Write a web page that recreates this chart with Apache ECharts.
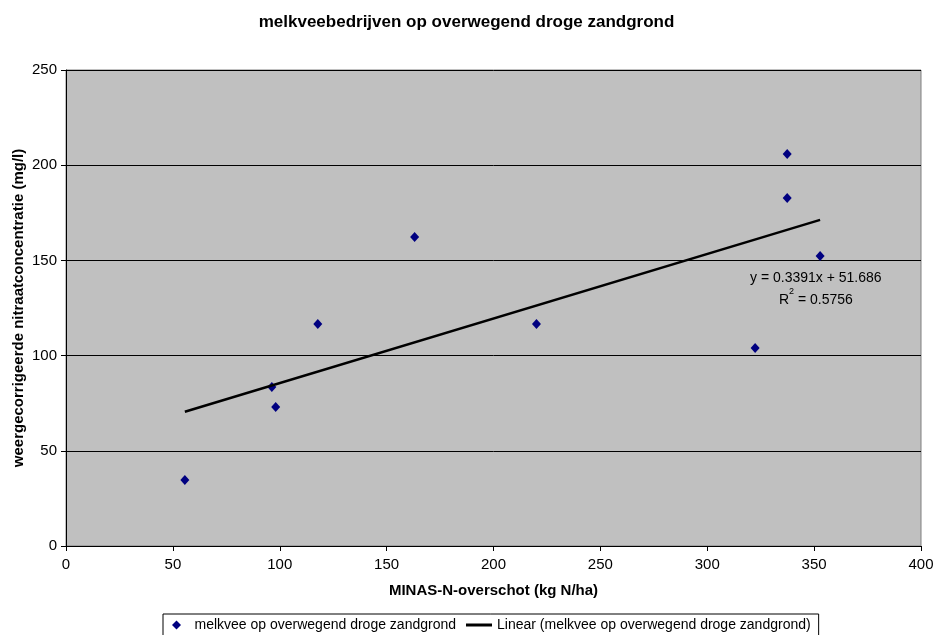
<!DOCTYPE html>
<html>
<head>
<meta charset="utf-8">
<script src="https://cdn.jsdelivr.net/npm/echarts@6/dist/echarts.min.js"></script>
<style>html,body{margin:0;padding:0;background:#fff}#c{width:933px;height:635px}</style>
</head>
<body>
<div id="c"></div>
<script>
const minasX = [55.6, 96.3, 98.1, 117.8, 163.1, 220.1, 322.4, 337.4, 337.4, 352.8];
const nitraatY = [34.7, 83.5, 73.0, 116.6, 162.3, 116.6, 104.0, 205.9, 182.8, 152.3];
const trendX = [55.6, 352.8];
const trendY = [70.5, 171.3];
const titleText = 'melkveebedrijven op overwegend droge zandgrond';
const seriesName = 'melkvee op overwegend droge zandgrond';
const trendName = 'Linear (melkvee op overwegend droge zandgrond)';
const eqText = 'y = 0.3391x + 51.686';
const r2Text = '0.5756';

const font = 'Liberation Sans, Arial, sans-serif';
const chart = echarts.init(document.getElementById('c'));
chart.setOption({
  animation: false,
  textStyle: {fontFamily: font},
  title: {text: titleText, left: 'center', top: 9,
    textStyle: {fontSize: 17, fontWeight: 'bold', color: '#000', fontFamily: font}},
  grid: {left: 66, right: 12, top: 70, bottom: 89, show: true, containLabel: false,
    outerBoundsMode: 'none',
    backgroundColor: '#c0c0c0', borderColor: '#808080', borderWidth: 1},
  legend: {top: 614, left: 163, itemGap: 10, itemWidth: 26, itemHeight: 9,
    padding: [4, 8, 8, 9], symbolKeepAspect: true,
    borderColor: '#000', borderWidth: 1, backgroundColor: '#fff',
    textStyle: {fontSize: 14, color: '#000', fontFamily: font, padding: [0, 0, 0, 0]},
    data: [{name: seriesName, icon: 'path://M5,0 L10,5 L5,10 L0,5 Z', itemStyle: {color: '#000080'}},
           {name: trendName, icon: 'path://M0,0 L26,0 L26,3 L0,3 Z', itemStyle: {color: '#000'}}]},
  xAxis: {type: 'value', min: 0, max: 400, interval: 50,
    name: 'MINAS-N-overschot (kg N/ha)', nameLocation: 'middle', nameGap: 37,
    nameTextStyle: {fontSize: 15, fontWeight: 'bold', color: '#000'},
    axisLine: {lineStyle: {color: '#000'}}, axisTick: {show: true, length: 5, lineStyle: {color: '#000'}},
    axisLabel: {fontSize: 15, color: '#000', margin: 11}, splitLine: {show: false}},
  yAxis: {type: 'value', min: 0, max: 250, interval: 50,
    name: 'weergecorrigeerde nitraatconcentratie (mg/l)', nameLocation: 'middle', nameGap: 40,
    nameMoveOverlap: false,
    nameTextStyle: {fontSize: 15, fontWeight: 'bold', color: '#000'},
    axisLine: {show: true, lineStyle: {color: '#000'}}, axisTick: {show: true, length: 5, lineStyle: {color: '#000'}},
    axisLabel: {fontSize: 15, color: '#000', margin: 9},
    splitLine: {show: true, lineStyle: {color: '#000', width: 1}}},
  series: [
    {name: seriesName, type: 'scatter', symbol: 'diamond', symbolSize: [9, 10],
     itemStyle: {color: '#000080', opacity: 1},
     data: minasX.map((x, i) => [x, nitraatY[i]])},
    {name: trendName, type: 'line', showSymbol: false, symbol: 'none',
     lineStyle: {color: '#000', width: 2.5}, itemStyle: {color: '#000'},
     data: trendX.map((x, i) => [x, trendY[i]])}
  ],
  graphic: [
    {type: 'text', left: 750, top: 271, style: {text: eqText, font: '14px ' + font, fill: '#000'}},
    {type: 'text', left: 779, top: 287, style: {
      text: '{a|R}{s|2}{a| = ' + r2Text + '}',
      rich: {a: {fontSize: 14, fontFamily: font, color: '#000', verticalAlign: 'bottom', lineHeight: 20},
             s: {fontSize: 9, fontFamily: font, color: '#000', verticalAlign: 'top', lineHeight: 20, padding: [0, 0, 9, 0]}}}}
  ]
});
</script>
</body>
</html>
